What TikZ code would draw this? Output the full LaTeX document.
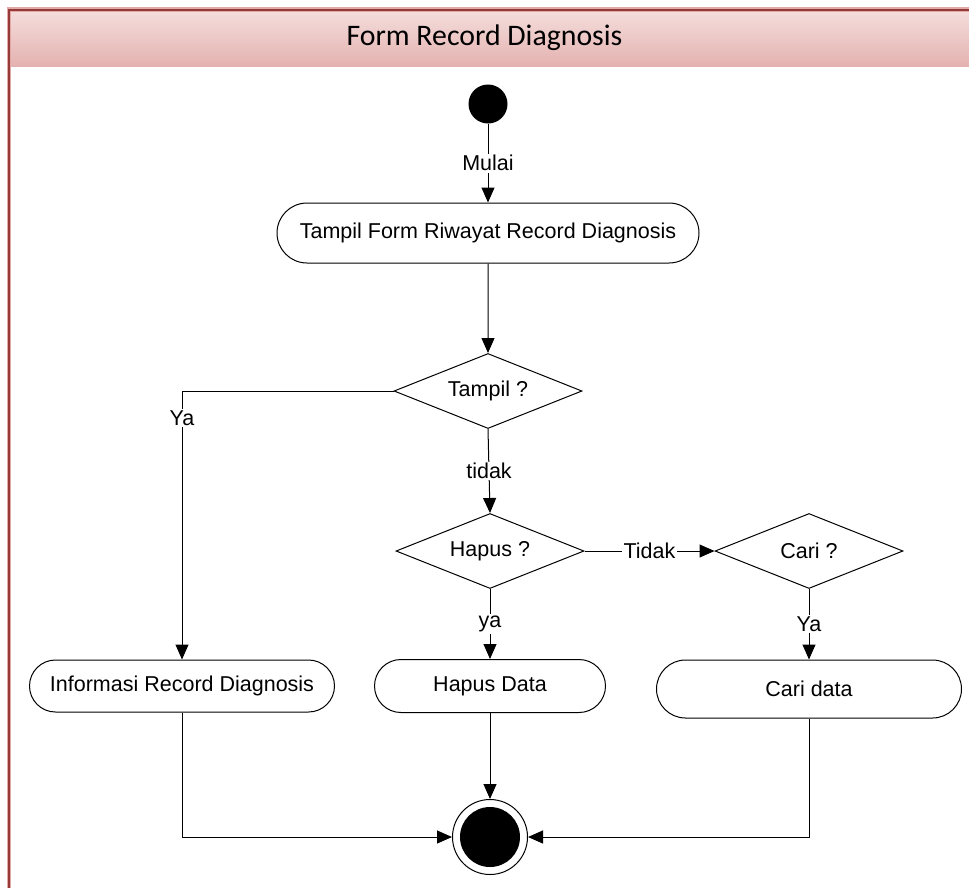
\documentclass[tikz,border=0pt]{standalone}
\usepackage{fontspec}
\setmainfont{Liberation Sans}
\newfontfamily\titlefont{Carlito}
\usetikzlibrary{arrows.meta,shapes.geometric,shapes.misc}
\definecolor{framered}{RGB}{150,58,56}
\definecolor{framepink}{RGB}{225,170,168}
\definecolor{headtop}{RGB}{244,222,220}
\definecolor{headbot}{RGB}{228,178,176}
\begin{document}
\begin{tikzpicture}[x=1pt,y=-1pt,line width=1pt,
  txt/.style={font=\fontsize{21.5}{25}\selectfont},
  act/.style={draw, rounded rectangle, inner sep=0pt, txt},
  dec/.style={draw, diamond, shape aspect=2.5, minimum width=188, minimum height=75, inner sep=0pt, txt},
  arr/.style={-{Triangle[length=15pt,width=13pt]}},
  lbl/.style={fill=white, inner sep=1.5pt, txt}]
\useasboundingbox (0,0) rectangle (969,887);
\clip (0,0) rectangle (969,887);
% frame and header
\shade[top color=headtop, bottom color=headbot] (10,10) rectangle (980,66);
\draw[framepink, line width=4.5pt] (9,900) -- (9,9.5) -- (980,9.5);
\draw[framered, line width=2pt] (9,900) -- (9,9.5) -- (980,9.5);
\node[font=\titlefont\fontsize{29.8}{34}\selectfont] (title) at (484.5,38) {Form Record Diagnosis};
% nodes
\node[circle, fill=black, minimum size=39, inner sep=0pt] (start) at (488,104) {};
\node[act, minimum width=422, minimum height=60] (show) at (488,233) {Tampil Form Riwayat Record Diagnosis};
\node[dec] (d1) at (488,391) {Tampil ?};
\node[dec] (d2) at (490,551) {Hapus ?};
\node[dec] (d3) at (809,551) {Cari ?};
\node[act, minimum width=305, minimum height=52] (info) at (182,686) {Informasi Record Diagnosis};
\node[act, minimum width=231, minimum height=53] (hapus) at (490,686) {Hapus Data};
\node[act, minimum width=305, minimum height=58] (cari) at (809,689) {Cari data};
\node[circle, draw, minimum size=75, inner sep=0pt] (end) at (490,837) {};
\node[circle, fill=black, minimum size=60, inner sep=0pt] (endin) at (end) {};
% connectors
\draw[arr] (start) -- node[lbl]{Mulai} (show);
\draw[arr] (show) -- (d1);
\draw[arr] (d1.west) -| node[lbl, pos=0.55]{Ya} (info.north);
\draw[arr] (d1.south) -- node[lbl]{tidak} (d2.north);
\draw[arr] (d2.east) -- node[lbl]{Tidak} (d3.west);
\draw[arr] (d2.south) -- node[lbl]{ya} (hapus.north);
\draw[arr] (d3.south) -- node[lbl]{Ya} (cari.north);
\draw[arr] (info.south) |- (end.west);
\draw[arr] (hapus.south) -- (end.north);
\draw[arr] (cari.south) |- (end.east);
\end{tikzpicture}
\end{document}
